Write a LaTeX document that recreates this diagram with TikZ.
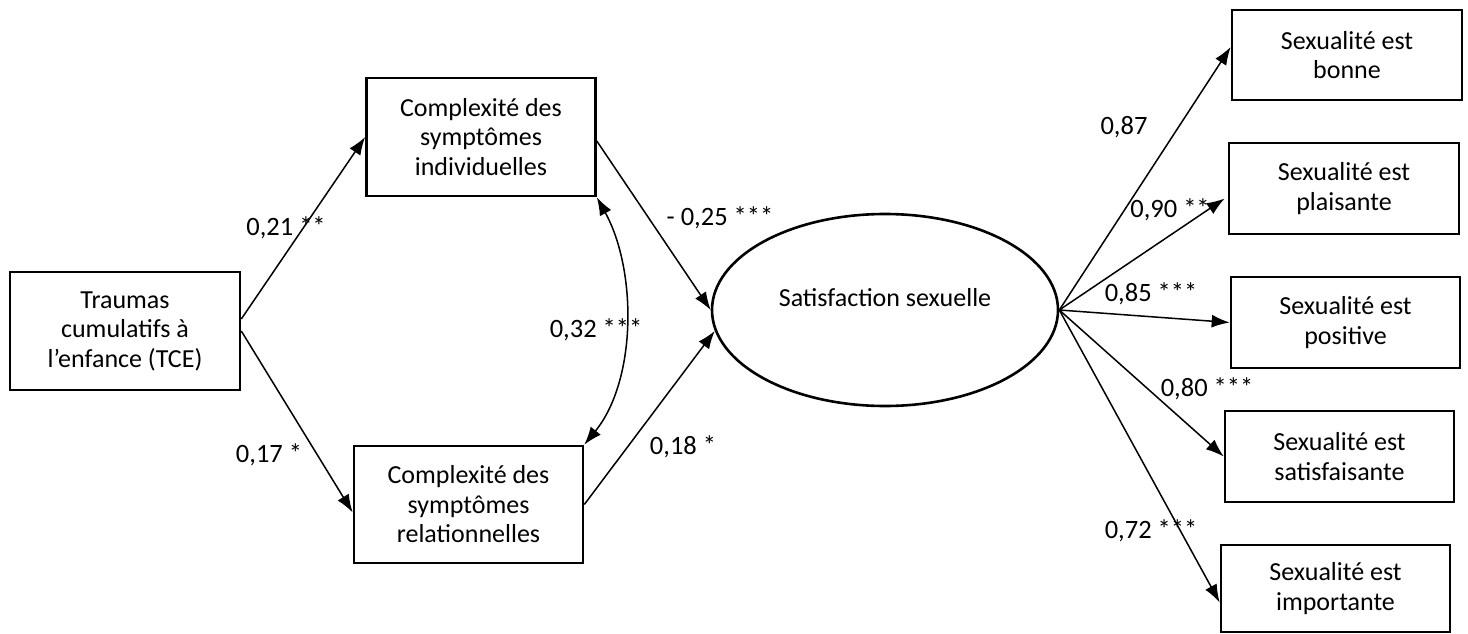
\documentclass[tikz,border=0pt]{standalone}
\usepackage{fontspec}
\setmainfont{Carlito}
\usetikzlibrary{arrows.meta,shapes.geometric}
\begin{document}
\begin{tikzpicture}[x=1pt,y=-1pt,
  box/.style={draw,line width=2.6pt,rectangle,inner sep=0pt,align=center,
    font=\fontsize{26}{29.5}\selectfont},
  lbl/.style={inner sep=0pt,font=\fontsize{26.5}{30}\selectfont},
  arr/.style={line width=1.5pt,-{Latex[length=18pt,width=13pt]}},
  darr/.style={line width=1.5pt,{Latex[length=18pt,width=13pt]}-{Latex[length=18pt,width=13pt]}}]
\useasboundingbox (0,0) rectangle (1468,634);
\node[box,minimum width=230pt,minimum height=118pt] (tce) at (125,331) {Traumas\\cumulatifs à\\l’enfance (TCE)};
\node[box,minimum width=229pt,minimum height=118pt] (ind) at (481,137) {Complexité des\\symptômes\\individuelles};
\node[box,minimum width=229pt,minimum height=117pt] (rel) at (468.5,504.5) {Complexité des\\symptômes\\relationnelles};
\node[draw,line width=2.6pt,ellipse,minimum width=346pt,minimum height=192pt,inner sep=0pt] (ell) at (885,310) {};
\node[font=\fontsize{26}{29.5}\selectfont,inner sep=0pt] (elltxt) at (885,298) {Satisfaction sexuelle};
\node[box,minimum width=230pt,minimum height=90pt] (bonne) at (1347,55) {Sexualité est\\bonne};
\node[box,minimum width=230pt,minimum height=91pt] (plais) at (1344,188.5) {Sexualité est\\plaisante};
\node[box,minimum width=229pt,minimum height=91pt] (posit) at (1345.5,322.5) {Sexualité est\\positive};
\node[box,minimum width=229pt,minimum height=91pt] (satis) at (1339.5,456.5) {Sexualité est\\satisfaisante};
\node[box,minimum width=229pt,minimum height=87pt] (impor) at (1335.5,588.5) {Sexualité est\\importante};

\draw[arr] ([yshift=12pt]tce.east) -- (ind.west);
\draw[arr] (tce.east) -- ([yshift=-8pt]rel.west);
\draw[arr] ([yshift=-4pt]ind.east) -- (ell.west);
\draw[arr] (rel.east) -- (ell.187);
\draw[darr] (ind.south east) .. controls (637,270) and (637,380) .. (rel.north east);
\draw[arr] (ell.east) -- ([yshift=8pt]bonne.west);
\draw[arr] (ell.east) -- ([yshift=-10pt,xshift=-3pt]plais.west);
\draw[arr] (ell.east) -- (posit.west);
\draw[arr] (ell.east) -- (satis.west);
\draw[arr] (ell.east) -- ([yshift=-14pt]impor.west);

\node[lbl] (l1) at (286,228) {0,21 **};
\node[lbl] (l2) at (269,455) {0,17 *};
\node[lbl] (l3) at (720,218) {- 0,25 ***};
\node[lbl] (l4) at (596,330) {0,32 ***};
\node[lbl] (l5) at (683,447) {0,18 *};
\node[lbl] (l6) at (1124,127) {0,87};
\node[lbl] (l7) at (1170,210) {0,90 **};
\node[lbl] (l8) at (1151,294) {0,85 ***};
\node[lbl] (l9) at (1207,389) {0,80 ***};
\node[lbl] (l10) at (1151,531) {0,72 ***};
\end{tikzpicture}
\end{document}
